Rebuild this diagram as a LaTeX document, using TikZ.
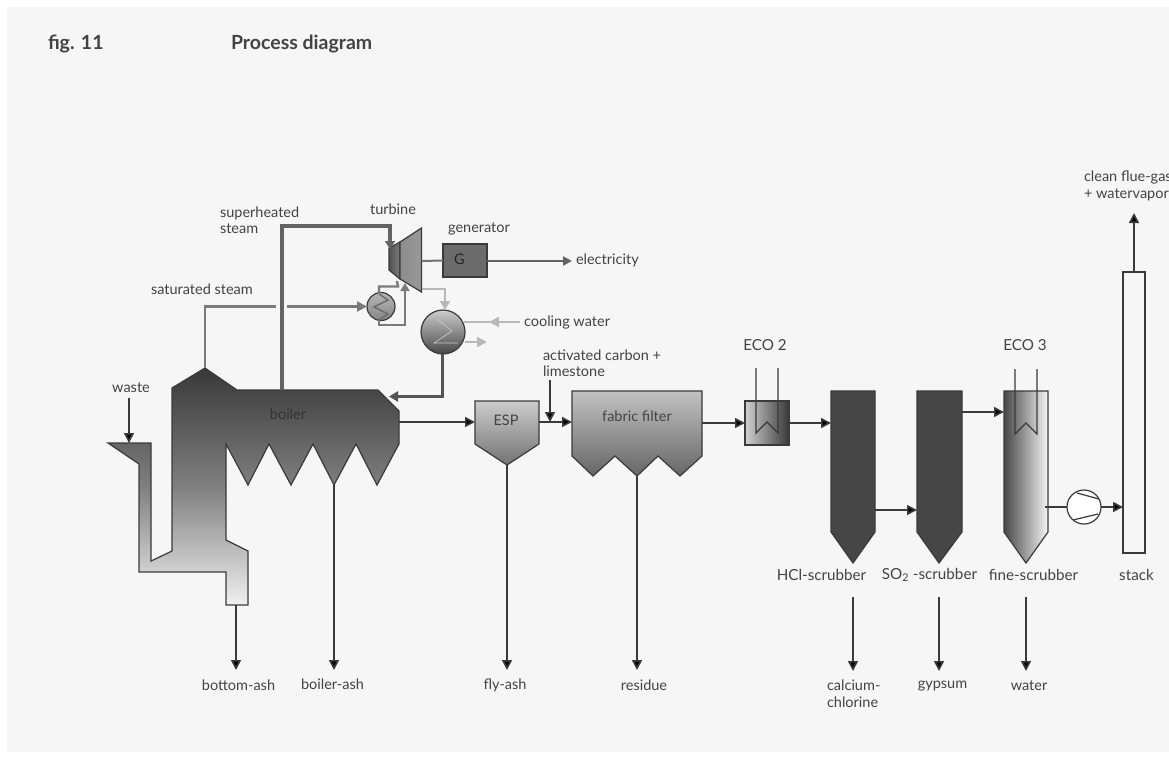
\documentclass[tikz,border=0pt]{standalone}
\usepackage{fontspec}
\setmainfont{Lato}
\usetikzlibrary{arrows.meta,calc}
\definecolor{ink}{HTML}{3a3a3a}
\definecolor{txt}{HTML}{434343}
\definecolor{steam}{HTML}{636363}
\definecolor{pale}{HTML}{b8b8b8}
\definecolor{paper}{HTML}{f6f6f6}
\definecolor{scrub}{HTML}{464646}
\tikzset{
  lab/.style={font=\fontsize{14.5}{16.5}\selectfont,text=txt,inner sep=0pt,outer sep=0pt},
  labb/.style={lab,font=\fontsize{15.2}{17}\selectfont},
  ttl/.style={font=\fontsize{19.5}{22}\selectfont\bfseries,text=txt,inner sep=0pt,outer sep=0pt},
  tipp/.style={-{Triangle[length=10pt,width=10pt,fill=black]}},
  flow/.style={draw=ink,line width=1.6pt,tipp},
  plain/.style={draw=ink,line width=1.6pt},
  hot/.style={draw=steam,line width=3.4pt},
  mid/.style={draw=steam!85,line width=2.2pt},
  midarrow/.style={draw=steam!85,line width=2.2pt,-{Triangle[length=10pt,width=10pt]}},
  palel/.style={draw=pale,line width=2.6pt},
  palearrow/.style={draw=pale,line width=1.6pt,-{Triangle[length=10pt,width=10pt,fill=pale]}},
  outline/.style={draw=ink,line width=1.2pt},
  box/.style={outline,inner sep=0pt,outer sep=0pt,rectangle},
  ring/.style={outline,inner sep=0pt,outer sep=0pt,circle},
}
\begin{document}
\begin{tikzpicture}[x=1pt,y=-1pt]
\useasboundingbox (0,0) rectangle (1169,758);
\fill[white] (0,0) rectangle (1169,758);
\fill[paper] (7,7) rectangle (1169,752);

% boiler
\path[shade,top color=black!78,bottom color=black!6,middle color=black!50,outline,line join=miter]
 (172,388) -- (205,368) -- (237,390) -- (378,390) -- (399,411) -- (399,444) -- (377,485)
 -- (356,444) -- (334,485) -- (313,444) -- (291,485) -- (269,444) -- (248,485) -- (226,444)
 -- (226,540) -- (248,551) -- (248,605) -- (226,605) -- (226,572) -- (139,572) -- (139,464)
 -- (108,443) -- (151,443) -- (151,561) -- (172,551) -- cycle;
\coordinate (boilerTopL) at (205,368);
\coordinate (boilerTopR) at (282,390);
\coordinate (boilerIn) at (389,396.5);
\coordinate (boilerOut) at (399,422);
\coordinate (boilerAshTop) at (334,485);
\coordinate (bottomAshTop) at (236,605);
\coordinate (feedIn) at (129,443);
\coordinate (wasteStart) at (129,398);

% turbine
\path[shade,left color=black!68,right color=black!52,outline] (389,248) -- (400,242) -- (400,279) -- (389,270) -- cycle;
\path[shade,left color=black!45,middle color=black!20,right color=black!40,outline] (400,242) -- (421.5,228) -- (421.5,292) -- (400,279) -- cycle;
\coordinate (turbIn) at (390,249);
\coordinate (turbShaft) at (421.5,261);
\coordinate (turbBleed) at (397,281);
\coordinate (turbReturn) at (405,283);
\coordinate (turbOut) at (421.5,289);

% generator
\node[box,fill=black!58,minimum width=44pt,minimum height=33pt] (gen) at (465,260.5) {};
\node[lab,text=black!85] (gtxt) at (459.5,259.5) {G};
\coordinate (elecEnd) at (572,261);

% heat exchanger
\node[ring,minimum size=28pt,shade,top color=black!28,bottom color=black!48] (hx) at (381,306.5) {};
\draw[line width=1.5pt,draw=black!58] (379,294) -- (388,300) -- (374,307) -- (388,314) -- (379,320);

% condenser
\node[ring,minimum size=44pt,shade,top color=black!20,middle color=black!36,bottom color=black!72] (cond) at (443,332) {};
\draw[line width=.7pt,draw=black!22] (437,319) -- (452,331) -- (434,343) -- (458,343);

% steam lines
\coordinate (satCorner) at (205,306.5);
\coordinate (gapL) at (276,306.5);
\coordinate (gapR) at (287,306.5);
\draw[mid] (boilerTopL) -- (satCorner) -- (gapL);
\draw[midarrow] (gapR) -- (hx.west);
\coordinate (supA) at (282,226);
\coordinate (supB) at (390,226);
\draw[hot,line join=miter,-{Triangle[length=8pt,width=10pt]}] (boilerTopR) -- (supA) -- (supB) -- (turbIn);

\coordinate (hxTop) at (379,293);
\coordinate (hxBot) at (379,320);
\coordinate (hxa) at (379,286.5);
\coordinate (hxb) at (398,286.5);
\coordinate (hxc) at (379,325);
\coordinate (hxd) at (405,325);
\draw[draw=steam!85,line width=2.4pt,line join=miter] (hxTop) -- (hxa) -- (hxb) -- (turbBleed);
\draw[draw=steam!85,line width=2.4pt,line join=miter,-{Triangle[length=8pt,width=9pt]}] (hxBot) -- (hxc) -- (hxd) -- (turbReturn);

\draw[draw=steam!90,line width=2pt] (turbShaft) -- (gen.west);
\draw[steam,line width=2.6pt,-{Triangle[length=9pt,width=9pt]}] (gen.east) ++(0,0.5) -- (elecEnd);

% condenser connections
\coordinate (pa) at (445,289);
\draw[palel,line join=miter,-{Triangle[length=9pt,width=10pt,fill=pale]}] (turbOut) -- (pa) -- (445,310);
\coordinate (cwIn) at (520,322);
\coordinate (cwOut) at (487,342);
\coordinate (condOutP) at (465,342);
\coordinate (condInP) at (464,322);
\draw[palearrow] (cwIn) -- (489,322);
\draw[pale,line width=1.6pt] (490,322) -- (condInP);
\draw[palearrow] (condOutP) -- (cwOut);
\coordinate (retCorner) at (442,396.5);
\draw[steam!85!black,line width=3pt,-{Triangle[length=9pt,width=10pt]},line join=miter] (442,354) -- (retCorner) -- (boilerIn);

% ESP
\path[shade,top color=black!20,bottom color=black!55,outline] (475,401) -- (539,401) -- (539,444) -- (507,465) -- (475,444) -- cycle;
\coordinate (espIn) at (475,422);
\coordinate (espOut) at (539,422);
\coordinate (espAsh) at (507,465);

% fabric filter
\path[shade,top color=black!24,bottom color=black!60,outline] (572,391) -- (702,391) -- (702,456) -- (680,476) -- (658,456) -- (637,476) -- (615,456) -- (593,476) -- (572,456) -- cycle;
\coordinate (ffIn) at (572,422);
\coordinate (ffOut) at (702,423);
\coordinate (ffAsh) at (637,476);
\coordinate (carbonStart) at (550,380);
\coordinate (carbonEnd) at (550,422);

% ECO 2
\node[box,shade,shading angle=105,left color=black!18,right color=black!78,minimum width=44pt,minimum height=44pt] (eco) at (767,423) {};
\coordinate (ecoA) at (756,368);
\coordinate (ecoB) at (778,368);
\draw[plain,line join=miter,line width=1.2pt] (ecoA) -- (756,433) -- (767,422) -- (778,433) -- (ecoB);

% scrubbers
\path[fill=scrub,outline] (831,391) -- (875,391) -- (875,532) -- (853,563) -- (831,532) -- cycle;
\path[fill=scrub,outline] (917,391) -- (962,391) -- (962,532) -- (939,563) -- (917,532) -- cycle;
\path[shade,left color=black!72,middle color=black!22,right color=black!4,outline] (1004,391) -- (1048,391) -- (1048,532) -- (1026,563) -- (1004,532) -- cycle;
\coordinate (eco3A) at (1015,369);
\coordinate (eco3B) at (1037,369);
\draw[plain,line join=miter,line width=1.2pt] (eco3A) -- (1015,434) -- (1026,423) -- (1037,434) -- (eco3B);

\coordinate (hclIn) at (831,423);
\coordinate (hclOut) at (875,510);
\coordinate (soIn) at (917,510);
\coordinate (soOut) at (962,412);
\coordinate (fineIn) at (1004,412);
\coordinate (fineOut) at (1045,507);

% pump
\node[ring,fill=white,minimum size=34pt] (pump) at (1084,507) {};
\draw[outline] (1077,493) -- (1099,499) (1073,520) -- (1098,514);

% stack
\node[box,fill=paper,minimum width=22pt,minimum height=281pt,anchor=south] (stack) at (1134,553) {};
\coordinate (stackIn) at (1123,507);
\coordinate (stackTop) at (1134,213);

% flow connectors
\draw[flow] (wasteStart) -- (feedIn);
\draw[flow] (boilerOut) -- (espIn);
\draw[flow] (espOut) -- (ffIn);
\draw[flow] (carbonStart) -- (carbonEnd);
\draw[flow] (ffOut) -- (eco.west);
\draw[flow] (eco.east) -- (hclIn);
\draw[flow] (hclOut) -- (soIn);
\draw[flow] (soOut) -- (fineIn);
\draw[plain] (fineOut) -- (pump.west);
\draw[flow] (pump.east) -- (stackIn);
\draw[flow] (stack.north) -- (stackTop);

\foreach \a/\b/\x in {bottomAshTop/bottomEnd/236,boilerAshTop/boilerEnd/334,espAsh/flyEnd/507,ffAsh/residueEnd/637}{
  \coordinate (\b) at (\x,670);
  \draw[flow] (\a) -- (\b);
}
\foreach \a/\b/\x in {hclBase/caEnd/853,soBase/gyEnd/939,fineBase/waEnd/1026}{
  \coordinate (\a) at (\x,597);
  \coordinate (\b) at (\x,671);
  \draw[flow] (\a) -- (\b);
}

% labels
\node[ttl,anchor=west] (t1) at (48,44) {fig. 11};
\node[ttl,anchor=west] (t2) at (231,44) {Process diagram};
\node[lab,anchor=west,align=left] (l1) at (220,220) {superheated\\steam};
\node[lab] (l2) at (393,209) {turbine};
\node[lab] (l3) at (479,229) {generator};
\node[lab,anchor=west] (l4) at (576,260) {electricity};
\node[lab,anchor=west] (l5) at (151,289) {saturated steam};
\node[lab,anchor=west] (l6) at (524,322) {cooling water};
\node[lab] (l7) at (131,388) {waste};
\node[lab,text=black!80] (l8) at (288,414) {boiler};
\node[lab,anchor=west,align=left] (l9) at (543,363) {activated carbon +\\limestone};
\node[lab] (l10) at (506,420) {ESP};
\node[lab] (l11) at (637,416) {fabric filter};
\node[labb] (l12) at (765,345) {ECO 2};
\node[labb] (l13) at (1025,345) {ECO 3};
\node[labb] (l14) at (821.5,575) {HCl-scrubber};
\node[labb] (l15) at (929.5,575) {SO\textsubscript{2} -scrubber};
\node[labb] (l16) at (1033.5,575) {fine-scrubber};
\node[labb] (l17) at (1136.5,575) {stack};
\node[lab,anchor=west,align=left] (l18) at (1084,186) {clean flue-gas\\+ watervapor};
\node[lab] (l19) at (238.5,685) {bottom-ash};
\node[lab] (l20) at (332.5,684) {boiler-ash};
\node[lab] (l21) at (505,685) {fly-ash};
\node[lab] (l22) at (644,685) {residue};
\node[lab,anchor=west,align=left] (l23) at (827,693.5) {calcium-\\chlorine};
\node[lab] (l24) at (942.5,686) {gypsum};
\node[lab] (l25) at (1029,686) {water};
\end{tikzpicture}
\end{document}
